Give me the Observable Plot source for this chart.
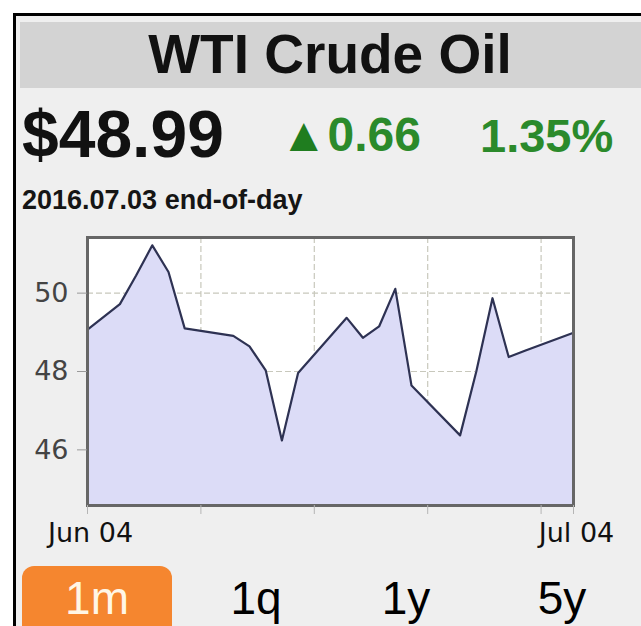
<!DOCTYPE html>
<html>
<head>
<meta charset="utf-8">
<script src="https://cdn.jsdelivr.net/npm/d3@7"></script>
<script src="https://cdn.jsdelivr.net/npm/@observablehq/plot@0.6"></script>
<style>
  html, body { margin: 0; padding: 0; background: #ffffff; width: 641px; height: 626px; overflow: hidden; }
  body { position: relative; font-family: "Liberation Sans", Arial, sans-serif; }
  .card { position: absolute; left: 13px; top: 13px; width: 700px; height: 700px; border: 3px solid #000; background: #efefef; box-sizing: border-box; }
  .abs { position: absolute; line-height: 1; white-space: nowrap; }
  #titlebar { position: absolute; left: 20px; top: 22px; width: 640px; height: 66px; background: #d3d3d3; }
  #chart { position: absolute; left: 0; top: 225px; }
  .btn { position: absolute; font-size: 46px; line-height: 1; color: #000; text-align: center; width: 120px; }
</style>
</head>
<body>
<div class="card"></div>
<div id="titlebar"></div>
<div class="abs" id="title" style="left:0;width:660px;text-align:center;top:27px;font-size:55px;font-weight:bold;color:#111;"></div>
<div class="abs" id="price" style="left:22px;top:101px;font-size:66px;font-weight:bold;color:#111;"></div>
<div class="abs" id="change" style="left:280px;top:111px;font-size:48px;font-weight:bold;color:#2b8a2b;"></div>
<div class="abs" id="pct" style="left:480px;top:112px;font-size:47px;font-weight:bold;color:#2b8a2b;"></div>
<div class="abs" id="asof" style="left:22px;top:187px;font-size:27px;font-weight:bold;color:#151515;"></div>
<div id="chart"></div>
<div style="position:absolute;left:22px;top:566px;width:150px;height:80px;border-radius:12px;background:#f5862f;"></div>
<div id="buttons"></div>
<script>
// ---- data ----
const titleText = "WTI Crude Oil";
const priceText = "$48.99";
const changeText = "0.66";
const pctText = "1.35%";
const asofText = "2016.07.03 end-of-day";

const dates = ["2016-06-04","2016-06-06","2016-06-07","2016-06-08","2016-06-09","2016-06-10",
  "2016-06-13","2016-06-14","2016-06-15","2016-06-16","2016-06-17",
  "2016-06-20","2016-06-21","2016-06-22","2016-06-23","2016-06-24",
  "2016-06-27","2016-06-28","2016-06-29","2016-06-30","2016-07-01","2016-07-04"];
const prices = [49.07,49.72,50.45,51.22,50.54,49.10,
  48.91,48.64,48.03,46.24,47.96,
  49.37,48.86,49.15,50.11,47.64,
  46.37,48.00,49.87,48.37,48.53,48.99];
const yTicks = [46, 48, 50];
const yDomain = [44.58, 51.42];
const xDomain = ["2016-06-04", "2016-07-04"];
const tickDates = ["2016-06-04","2016-06-11","2016-06-18","2016-06-25","2016-07-02","2016-07-04"];
const gridDates = ["2016-06-11","2016-06-18","2016-06-25","2016-07-02"];
const labelDates = ["2016-06-04","2016-07-04"];
const labelTexts = ["Jun 04","Jul 04"];
const buttonLabels = ["1m","1q","1y","5y"];

// ---- text ----
document.getElementById("title").textContent = titleText;
document.getElementById("price").textContent = priceText;
document.getElementById("change").innerHTML = '<span style="color:#1f7d1f;font-size:48px;">\u25B2</span>' + changeText;
document.getElementById("pct").textContent = pctText;
document.getElementById("asof").textContent = asofText;

const btnCenters = [97, 256, 406, 562];
const btnWrap = document.getElementById("buttons");
buttonLabels.forEach((b, i) => {
  const d = document.createElement("div");
  d.className = "btn";
  d.textContent = b;
  d.style.left = (btnCenters[i] - 60) + "px";
  d.style.top = "575px";
  if (i === 0) d.style.color = "#fff6e6";
  btnWrap.appendChild(d);
});

// ---- chart ----
const parse = d3.utcParse("%Y-%m-%d");
const data = dates.map((d, i) => ({date: parse(d), price: prices[i]}));
const labelMap = new Map(labelDates.map((d, i) => [+parse(d), labelTexts[i]]));

const chart = Plot.plot({
  width: 641,
  height: 330,
  marginLeft: 87,
  marginRight: 68,
  marginTop: 12,
  marginBottom: 50,
  style: {background: "transparent", fontFamily: "'DejaVu Sans', sans-serif", overflow: "visible"},
  x: {type: "utc", domain: xDomain.map(parse), label: null},
  y: {domain: yDomain, label: null},
  marks: [
    Plot.frame({fill: "#ffffff", stroke: null}),
    Plot.gridY(yTicks, {stroke: "#c8c8bc", strokeOpacity: 1, strokeDasharray: "6,3", strokeWidth: 1.2}),
    Plot.gridX(gridDates.map(parse), {stroke: "#c8c8bc", strokeOpacity: 1, strokeDasharray: "6,3", strokeWidth: 1.2}),
    Plot.areaY(data, {x: "date", y1: yDomain[0], y2: "price", fill: "#dcdcf7", fillOpacity: 1}),
    Plot.lineY(data, {x: "date", y: "price", stroke: "#2e3253", strokeWidth: 2.2}),
    Plot.frame({stroke: "#666666", strokeWidth: 3}),
    Plot.axisY(yTicks, {tickSize: 10, tickPadding: 9, fontSize: 27, fill: "#444", stroke: "#9a9a9a", label: null}),
    Plot.axisX(tickDates.map(parse), {tickSize: 9, stroke: "#b5b5b5", tickFormat: () => "", label: null}),
    Plot.axisX(labelDates.map(parse), {tickSize: 0, tickPadding: 17, fontSize: 27, fill: "#111", dx: 3,
      tickFormat: d => labelMap.get(+d), label: null})
  ]
});
document.getElementById("chart").appendChild(chart);
</script>
</body>
</html>
